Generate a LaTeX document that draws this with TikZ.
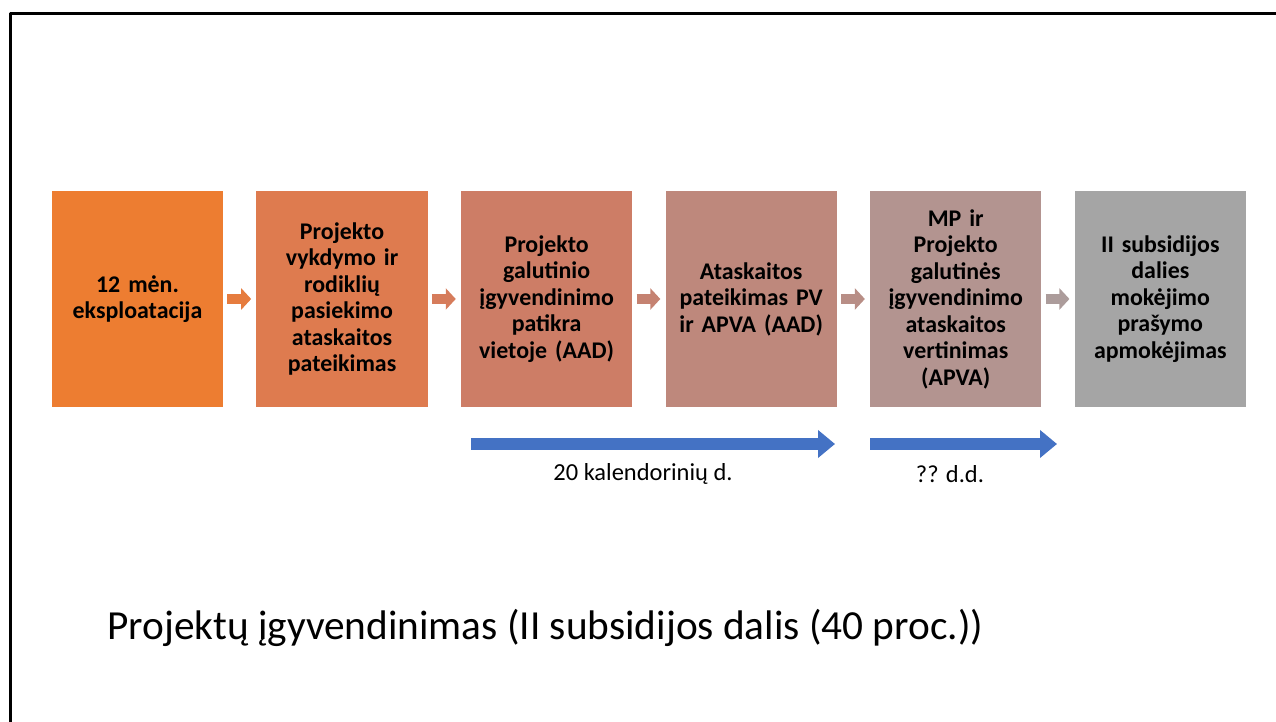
\documentclass[tikz,border=0pt]{standalone}
\usepackage{xcolor}
\usepackage{fontspec}
\setmainfont{Carlito}
\usepackage{tikz}
\usetikzlibrary{arrows.meta,positioning}
\definecolor{edqqdb}{rgb}{0.929,0.490,0.192}
\definecolor{deqqdf}{rgb}{0.871,0.482,0.310}
\definecolor{cdqqdd}{rgb}{0.804,0.490,0.400}
\definecolor{beqqcc}{rgb}{0.745,0.533,0.486}
\definecolor{bbqqaa}{rgb}{0.702,0.580,0.565}
\definecolor{aaqqaa}{rgb}{0.647,0.647,0.647}
\definecolor{blueqq}{rgb}{0.267,0.447,0.769}
\tikzset{
  stepbox/.style={minimum width=4.28cm,minimum height=5.4cm,text width=4.1cm,align=center,
    inner sep=0pt,font=\bfseries\fontsize{17}{18.85}\selectfont},
  flow/.style={line width=7.1pt,line cap=butt,shorten <=0.1cm,shorten >=0.125cm,
    -{Triangle[width=14.9pt,length=7.1pt]}},
  span/.style={line width=8.5pt,line cap=butt,draw=blueqq,
    -{Triangle[width=19.2pt,length=12.1pt]}}
}

\begin{document}
\begin{tikzpicture}[line cap=round,line join=round,x=1.0cm,y=1.0cm]
\useasboundingbox (0,0) rectangle (31.9,18.05);
\draw [line width=2.13pt] (0.2625,0) -- (0.2625,17.7125) -- (31.9,17.7125);
\node [stepbox,fill=edqqdb] (b1) at (3.4375,10.575) {12 mėn.\\eksploatacija};
\node [stepbox,fill=deqqdf,right=0.82cm of b1] (b2) {Projekto\\vykdymo ir\\rodiklių\\pasiekimo\\ataskaitos\\pateikimas};
\node [stepbox,fill=cdqqdd,right=0.82cm of b2] (b3) {Projekto\\galutinio\\įgyvendinimo\\patikra\\vietoje (AAD)};
\node [stepbox,fill=beqqcc,right=0.82cm of b3] (b4) {Ataskaitos\\pateikimas PV\\ir APVA (AAD)};
\node [stepbox,fill=bbqqaa,right=0.82cm of b4] (b5) {MP ir\\Projekto\\galutinės\\įgyvendinimo\\ataskaitos\\vertinimas\\(APVA)};
\node [stepbox,fill=aaqqaa,right=0.82cm of b5] (b6) {II subsidijos\\dalies\\mokėjimo\\prašymo\\apmokėjimas};
\draw [flow,draw=edqqdb!55!deqqdf] (b1) -- (b2);
\draw [flow,draw=deqqdf!50!cdqqdd] (b2) -- (b3);
\draw [flow,draw=cdqqdd!50!beqqcc] (b3) -- (b4);
\draw [flow,draw=beqqcc!50!bbqqaa] (b4) -- (b5);
\draw [flow,draw=bbqqaa!50!aaqqaa] (b5) -- (b6);
\coordinate (s1) at (11.775,6.95);
\coordinate (e1) at (20.875,6.95);
\coordinate (s2) at (21.75,6.95);
\coordinate (e2) at (26.425,6.95);
\draw [span] (s1) -- (e1);
\draw [span] (s2) -- (e2);
\node [font=\fontsize{17.4}{21}\selectfont] (l1) at (16.075,6.2) {20 kalendorinių d.};
\node [font=\fontsize{17.4}{21}\selectfont] (l2) at (23.75,6.2) {?? d.d.};
\node [anchor=base west,inner sep=0pt,font=\fontsize{29.4}{35}\selectfont] (title) at (2.675,2.05) {Projektų įgyvendinimas (II subsidijos dalis (40 proc.))};
\end{tikzpicture}
\end{document}
